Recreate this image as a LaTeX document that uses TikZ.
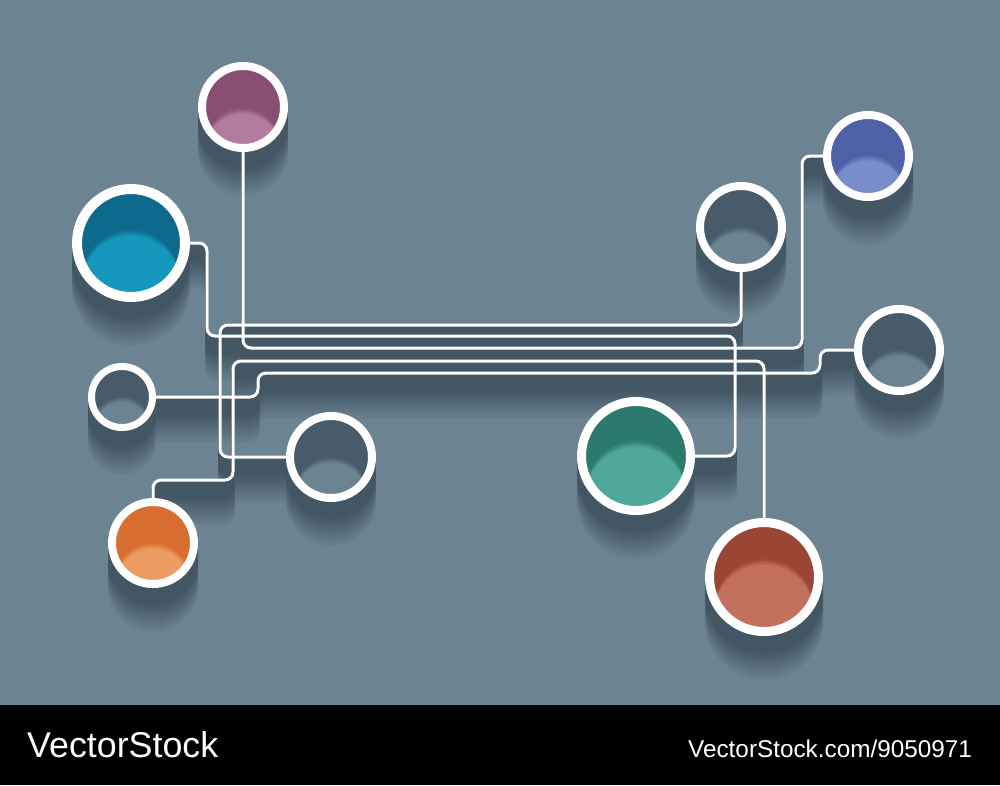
\documentclass[tikz,border=0pt]{standalone}
\usepackage{fontspec}
\setmainfont{Liberation Sans}
\usetikzlibrary{calc}
\definecolor{bgc}{HTML}{6C8392}
\definecolor{shc}{HTML}{435664}
\definecolor{ringD}{HTML}{475B6A}
\definecolor{pinkD}{HTML}{8A4E70}
\definecolor{pinkL}{HTML}{B27C9E}
\definecolor{blueD}{HTML}{0E6A8C}
\definecolor{blueL}{HTML}{1598BD}
\definecolor{orangeD}{HTML}{D96E31}
\definecolor{orangeL}{HTML}{EC9C62}
\definecolor{greenD}{HTML}{2C7A6E}
\definecolor{greenL}{HTML}{50A79B}
\definecolor{redD}{HTML}{9B4535}
\definecolor{redL}{HTML}{C4705F}
\definecolor{purpleD}{HTML}{4E60A6}
\definecolor{purpleL}{HTML}{7A8DCB}
\tikzset{
  hub/.style={circle, inner sep=0pt, outer sep=0pt, minimum size=#1},
  wire/.style={white, line width=3pt, rounded corners=8pt},
  mark text/.style={anchor=base west, inner sep=0pt, text=white}
}
% name, outer radius, ring width, dark, light, offset of light edge from centre
\newcommand\cylhole[6]{%
  \pgfmathsetmacro\ri{#2-#3}%
  \begin{scope}
    \clip (#1) circle[radius=\ri];
    \fill[#4] (#1) circle[radius=#2];
    \fill[#5!15!#4] ($(#1)+(0,#6+\ri-5)$) circle[radius=\ri];
    \fill[#5!35!#4] ($(#1)+(0,#6+\ri-3.5)$) circle[radius=\ri];
    \fill[#5!60!#4] ($(#1)+(0,#6+\ri-2)$) circle[radius=\ri];
    \fill[#5!82!#4] ($(#1)+(0,#6+\ri-0.5)$) circle[radius=\ri];
    \fill[#5] ($(#1)+(0,#6+\ri+1)$) circle[radius=\ri];
  \end{scope}
  \draw[white, line width=#3pt] (#1) circle[radius=#2-#3/2];
}
\def\pathA{(ring8.south) -- (741,325) -- (220,325) -- (220,457) -- (ring4.west)}
\def\pathB{(blue.east) -- (207,243) -- (207,336) -- (735,336) -- (735,456) -- (green.east)}
\def\pathC{(pink.south) -- (243,348) -- (802,348) -- (802,156) -- (purple.west)}
\def\pathD{(orange.north) -- (153,480) -- (233,480) -- (233,361) -- (764,361) -- (red.north)}
\def\pathE{(small.east) -- (258,397) -- (258,373) -- (820,373) -- (820,350) -- (ring10.west)}
\begin{document}
\begin{tikzpicture}[x=1pt,y=-1pt]
\useasboundingbox (0,0) rectangle (1000,785);
\fill[bgc] (0,0) rectangle (1000,705);
\fill[black] (0,705) rectangle (1000,785);
% anchors of the circles
\node[hub=90pt] (pink) at (243,107) {};
\node[hub=118pt] (blue) at (131,243) {};
\node[hub=68pt] (small) at (122,397) {};
\node[hub=90pt] (ring4) at (331,457) {};
\node[hub=90pt] (orange) at (153,543) {};
\node[hub=118pt] (green) at (636,456) {};
\node[hub=118pt] (red) at (764,577) {};
\node[hub=90pt] (ring8) at (741,227) {};
\node[hub=90pt] (purple) at (868,156) {};
\node[hub=90pt] (ring10) at (899,350) {};
% shadows
\foreach \k in {44,43,...,1}{
  \pgfmathtruncatemacro\p{min(100,(46-\k)*100/30)}
  \begin{scope}[transform canvas={yshift=-\k pt}]
    \fill[shc!\p!bgc] (pink) circle[radius=45] (blue) circle[radius=59]
      (small) circle[radius=34] (ring4) circle[radius=45] (orange) circle[radius=45]
      (green) circle[radius=59] (red) circle[radius=59] (ring8) circle[radius=45]
      (purple) circle[radius=45] (ring10) circle[radius=45];
    \draw[shc!\p!bgc, line width=3pt, rounded corners=8pt] \pathA \pathB \pathC \pathD \pathE;
  \end{scope}
}
% connectors
\draw[wire] \pathA;
\draw[wire] \pathB;
\draw[wire] \pathC;
\draw[wire] \pathD;
\draw[wire] \pathE;
% circles
\cylhole{pink}{45}{8}{pinkD}{pinkL}{6}
\cylhole{blue}{59}{10}{blueD}{blueL}{-8}
\cylhole{small}{34}{7}{ringD}{bgc}{4}
\cylhole{ring4}{45}{8}{ringD}{bgc}{5}
\cylhole{orange}{45}{8}{orangeD}{orangeL}{5}
\cylhole{green}{59}{9}{greenD}{greenL}{-10}
\cylhole{red}{59}{9}{redD}{redL}{-13}
\cylhole{ring8}{45}{8}{ringD}{bgc}{5}
\cylhole{purple}{45}{8}{purpleD}{purpleL}{4}
\cylhole{ring10}{45}{8}{ringD}{bgc}{5}
% watermark
\node[mark text, font=\fontsize{35.8}{40}\selectfont] (wm1) at (27,757) {VectorStock};
\node[mark text, font=\fontsize{24.3}{28}\selectfont] (wm2) at (688,757) {VectorStock.com/9050971};
\end{tikzpicture}
\end{document}
